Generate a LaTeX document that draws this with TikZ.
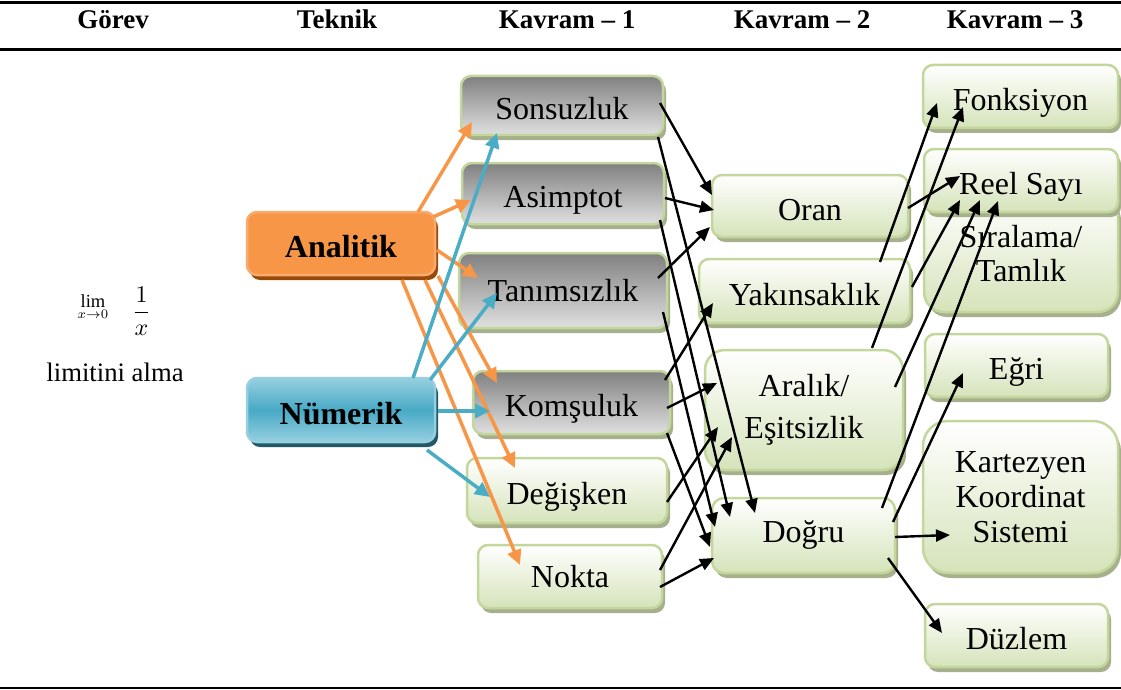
\documentclass[tikz,border=0pt]{standalone}
\usepackage{fontspec}
\setmainfont{Liberation Serif}
\usetikzlibrary{arrows.meta,shadows}
\definecolor{gborder}{RGB}{195,214,155}
\definecolor{gfill}{RGB}{213,227,186}
\definecolor{gshadow}{RGB}{166,176,140}
\definecolor{graytop}{RGB}{128,128,128}
\definecolor{graybot}{RGB}{224,224,224}
\definecolor{orangef}{RGB}{247,150,70}
\definecolor{orangeb}{RGB}{249,170,110}
\definecolor{orangesh}{RGB}{152,72,7}
\definecolor{bluelight}{RGB}{150,207,223}
\definecolor{bluemid}{RGB}{72,170,198}
\definecolor{bluesh}{RGB}{33,89,104}
\definecolor{blueline}{RGB}{75,172,198}
\begin{document}
\begin{tikzpicture}[x=1pt,y=-1pt,
  base/.style={rectangle, inner sep=0pt, align=center, font=\fontsize{32}{35}\selectfont, line width=2.5pt},
  one/.style={text height=28pt, text depth=0pt},
  gbox/.style={base, draw=gborder, rounded corners=10pt, top color=white, bottom color=gfill,
    general shadow={fill=gshadow, shadow xshift=3pt, shadow yshift=-5pt}},
  graybox/.style={gbox, top color=graytop, bottom color=graybot},
  anabox/.style={base, draw=orangeb, fill=orangef, rounded corners=10pt, font=\bfseries\fontsize{32}{35}\selectfont,
    general shadow={fill=orangesh, shadow xshift=3pt, shadow yshift=-5pt}},
  numbox/.style={base, draw=bluelight, rounded corners=10pt, top color=bluelight, bottom color=bluelight, middle color=bluemid,
    font=\bfseries\fontsize{32}{35}\selectfont,
    general shadow={fill=bluesh, shadow xshift=3pt, shadow yshift=-5pt}},
  hdr/.style={anchor=base, inner sep=0pt, font=\bfseries\fontsize{27}{30}\selectfont},
  blk/.style={line width=2.4pt, -{Triangle[length=14pt,width=12pt]}},
  org/.style={draw=orangef, line width=3.5pt, -{Triangle[length=15pt,width=14pt]}},
  blu/.style={draw=blueline, line width=3.5pt, -{Triangle[length=15pt,width=14pt]}},
  rule/.style={line width=3pt}
]
\useasboundingbox (0,0) rectangle (1121,690);
% rules
\draw[rule] (0,3) -- (1121,3);
\draw[rule] (0,49.5) -- (1121,49.5);
\draw[line width=2pt] (0,688) -- (1121,688);
% header
\node[hdr] (h1) at (113,29) {Görev};
\node[hdr] (h2) at (337,29) {Teknik};
\node[hdr] (h3) at (567,29) {Kavram – 1};
\node[hdr] (h4) at (802,29) {Kavram – 2};
\node[hdr] (h5) at (1015,29) {Kavram – 3};
% task
\node[inner sep=0pt, anchor=base, scale=1.85, transform shape] (limn) at (93,307) {$\lim\limits_{x\to 0}$};
\node[inner sep=0pt, scale=2.4, transform shape] (fracn) at (141.5,311) {$\displaystyle\frac{1}{x}$};
\node[font=\fontsize{26.7}{30}\selectfont, inner sep=0pt] (tasklbl) at (115,372) {limitini alma};
% technique
\node[anabox, one, minimum width=188pt, minimum height=63pt] (ana) at (341,243.5) {Analitik};
\node[numbox, one, minimum width=188pt, minimum height=64pt] (num) at (341,410) {Nümerik};
% column 1
\node[graybox, one, minimum width=202pt, minimum height=59pt] (sons) at (562,105.5) {Sonsuzluk};
\node[graybox, one, minimum width=202pt, minimum height=61pt] (asim) at (563,193.5) {Asimptot};
\node[graybox, minimum width=208pt, minimum height=75pt] (tanim) at (563,290.5) {Tanımsızlık};
\node[graybox, one, minimum width=197pt, minimum height=63pt] (koms) at (571.5,402.5) {Komşuluk};
\node[gbox, one, minimum width=200pt, minimum height=65pt] (degis) at (567,490.5) {Değişken};
\node[gbox, minimum width=184pt, minimum height=63pt] (nokta) at (570,576.5) {Nokta};
% column 2
\node[gbox, one, minimum width=196pt, minimum height=62pt] (oran) at (810,206) {Oran};
\node[gbox, one, minimum width=211pt, minimum height=64pt] (yak) at (804.5,291) {Yakınsaklık};
\node[gbox, rounded corners=20pt, minimum width=198pt, minimum height=120pt, font=\fontsize{32}{42}\selectfont] (aral) at (804,410) {Aralık/\\Eşitsizlik};
\node[gbox, rounded corners=12pt, minimum width=183pt, minimum height=75pt] (dogru) at (803.5,535.5) {Doğru};
% column 3
\node[gbox, one, minimum width=195pt, minimum height=63pt] (fonk) at (1020.5,96.5) {Fonksiyon};
\node[gbox, rounded corners=20pt, minimum width=194pt, minimum height=117pt, font=\fontsize{32}{34}\selectfont] (sira) at (1021,253.5) {Sıralama/\\Tamlık};
\node[gbox, one, minimum width=194pt, minimum height=63pt] (reel) at (1021,180.5) {Reel Sayı};
\node[gbox, one, minimum width=183pt, minimum height=63pt] (egri) at (1016.5,365.5) {Eğri};
\node[gbox, rounded corners=25pt, minimum width=195pt, minimum height=152pt] (kart) at (1020.5,497) {Kartezyen\\Koordinat\\Sistemi};
\node[gbox, one, minimum width=183pt, minimum height=63pt] (duz) at (1016.5,635.5) {Düzlem};
% orange arrows
\draw[org] ([shift={(77,-31.5)}]ana.center) -- ([shift={(-90,16.5)}]sons.center);
\draw[org] ([shift={(92,-26.5)}]ana.center) -- ([shift={(-92,6.5)}]asim.center);
\draw[org] ([shift={(96,6.5)}]ana.center) -- ([shift={(-85,-12.5)}]tanim.center);
\draw[org] ([shift={(97,32.5)}]ana.center) -- ([shift={(-74.5,-19.5)}]koms.center);
\draw[org] ([shift={(84,36.5)}]ana.center) -- ([shift={(-52,-22.5)}]degis.center);
\draw[org] ([shift={(61,36.5)}]ana.center) -- ([shift={(-50,-11.5)}]nokta.center);
% blue arrows
\draw[blu] ([shift={(72,-32)}]num.center) -- ([shift={(-65,27.5)}]sons.center);
\draw[blu] ([shift={(89,-30)}]num.center) -- ([shift={(-66,2.5)}]tanim.center);
\draw[blu] ([shift={(97,1)}]num.center) -- ([shift={(-81.5,8.5)}]koms.center);
\draw[blu] ([shift={(86,40)}]num.center) -- ([shift={(-77,6.5)}]degis.center);
% black arrows column 1 -> 2
\draw[blk] ([shift={(98,-2.5)}]sons.center) -- ([shift={(-98,-11)}]oran.center);
\draw[blk] ([shift={(96,31.5)}]sons.center) -- ([shift={(-48.5,-22.5)}]dogru.center);
\draw[blk] ([shift={(102,4.5)}]asim.center) -- ([shift={(-96,4)}]oran.center);
\draw[blk] ([shift={(97,26.5)}]asim.center) -- ([shift={(-73.5,-18.5)}]dogru.center);
\draw[blk] ([shift={(95,-12.5)}]tanim.center) -- ([shift={(-100,21)}]oran.center);
\draw[blk] ([shift={(100,21.5)}]tanim.center) -- ([shift={(-88.5,-8.5)}]dogru.center);
\draw[blk] ([shift={(93.5,-22.5)}]koms.center) -- ([shift={(-91.5,12)}]yak.center);
\draw[blk] ([shift={(95.5,5.5)}]koms.center) -- ([shift={(-87,-27)}]aral.center);
\draw[blk] ([shift={(95.5,30.5)}]koms.center) -- ([shift={(-93.5,11.5)}]dogru.center);
\draw[blk] ([shift={(100,11.5)}]degis.center) -- ([shift={(-86,17)}]aral.center);
\draw[blk] ([shift={(90,-6.5)}]nokta.center) -- ([shift={(-72,27)}]aral.center);
\draw[blk] ([shift={(90,10.5)}]nokta.center) -- ([shift={(-89.5,22.5)}]dogru.center);
% black arrows column 2 -> 3
\draw[blk] ([shift={(75.5,-29)}]yak.center) -- ([shift={(-83.5,6.5)}]fonk.center);
\draw[blk] ([shift={(68,-62)}]aral.center) -- ([shift={(-57.5,10.5)}]fonk.center);
\draw[blk] ([shift={(98,2)}]oran.center) -- ([shift={(-61,-4.5)}]reel.center);
\draw[blk] ([shift={(107.5,-4)}]yak.center) -- ([shift={(-61,19.5)}]reel.center);
\draw[blk] ([shift={(91,-23)}]aral.center) -- ([shift={(-41,19.5)}]reel.center);
\draw[blk] ([shift={(78.5,-27.5)}]dogru.center) -- ([shift={(-23,20.5)}]reel.center);
\draw[blk] ([shift={(89.5,-13.5)}]dogru.center) -- ([shift={(-53.5,7.5)}]egri.center);
\draw[blk] ([shift={(91.5,1.5)}]dogru.center) -- ([shift={(-70.5,38)}]kart.center);
\draw[blk] ([shift={(84.5,22.5)}]dogru.center) -- ([shift={(-74.5,-2.5)}]duz.center);
\end{tikzpicture}
\end{document}
